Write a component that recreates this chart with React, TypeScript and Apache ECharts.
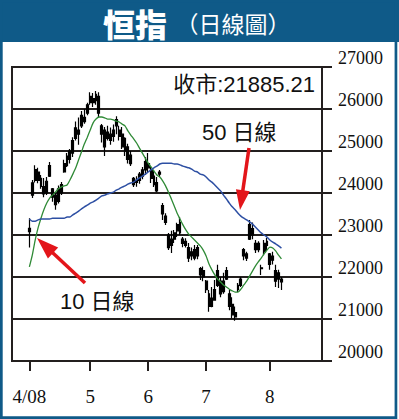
import React, { useEffect, useRef } from 'react';
import * as echarts from 'echarts';

// Trading days (2008)
const dates = [
  '4/1','4/2','4/3','4/7','4/8','4/9','4/10','4/11','4/14','4/15','4/16','4/17','4/18','4/21','4/22','4/23','4/24','4/25','4/28','4/29','4/30',
  '5/2','5/5','5/6','5/7','5/8','5/9','5/13','5/14','5/15','5/16','5/19','5/20','5/21','5/22','5/23','5/26','5/27','5/28','5/29','5/30',
  '6/2','6/3','6/4','6/5','6/6','6/10','6/11','6/12','6/13','6/16','6/17','6/18','6/19','6/20','6/23','6/24','6/25','6/26','6/27','6/30',
  '7/2','7/3','7/4','7/7','7/8','7/9','7/10','7/11','7/14','7/15','7/16','7/17','7/18','7/21','7/22','7/23','7/24','7/25','7/28','7/29','7/30','7/31',
  '8/1','8/4','8/5','8/6','8/7',
];

const openV = [
  23080,23950,24300,24500,24350,24150,24000,24400,24100,23950,23800,24000,24500,24650,24800,24950,25300,25500,25600,25800,25900,
  26150,26250,26200,26300,25600,25500,25300,25400,25350,25600,25500,25400,25300,25100,24900,24350,24250,24300,24400,24550,
  24700,24550,24400,24250,24450,23700,23450,23000,22750,22900,23100,23300,22900,22850,22700,22500,22650,22500,22050,22150,
  21900,21600,21300,21450,21800,21900,21650,21950,21600,21350,21150,21700,21800,22500,22550,22900,23150,22800,22650,22200,22600,22750,
  22550,22400,22150,21950,21950,
];
const closeV = [
  23160,24240,24560,24300,24160,23980,24280,24650,23900,23720,24100,24200,24700,24880,25000,25250,25550,25400,25850,25700,26100,
  26300,26150,26350,25900,25400,25100,25450,25250,25500,25750,25350,25100,25000,24800,24700,24200,24300,24450,24550,24750,
  24600,24350,24200,24050,24500,23500,23300,22700,22900,23050,23250,23050,22800,22750,22450,22600,22450,22700,22200,22000,
  21700,21300,21500,21700,22150,21600,21900,22150,21300,21100,21050,21800,21950,22650,22450,23250,23000,22650,22800,22220,22800,22850,
  22300,22500,21900,22100,21885.21,
];
const lowV = [
  22700,23880,24250,24230,24100,23900,23950,24380,23790,23600,23750,23950,24480,24620,24700,24860,25250,25150,25550,25650,25850,
  26100,26050,26100,25800,25200,24880,25250,25150,25220,25400,25250,25050,24880,24700,24640,24140,24150,24220,24330,24430,
  24500,24240,24140,24020,24380,23360,23240,22640,22570,22810,22950,23000,22710,22700,22360,22400,22400,22420,21930,21900,
  21620,21170,21280,21450,21760,21520,21600,21930,21210,21020,20960,21640,21760,22400,22380,22880,22900,22570,22590,22050,22520,22640,
  22170,22300,21760,21740,21690,
];
const highV = [
  23400,24310,24660,24600,24430,24360,24380,24740,24120,24000,24180,24260,24790,24950,25050,25330,25700,25800,25950,26000,26150,
  26400,26380,26430,26400,25640,25570,25600,25560,25630,25830,25600,25570,25330,25170,25000,24380,24400,24500,24620,24860,
  24950,24620,24550,24380,24550,23760,23520,23050,23100,23120,23290,23430,22950,22920,22810,22700,22760,22760,22240,22250,
  21930,21690,21760,21930,22290,22000,22100,22240,21690,21520,21300,21860,22000,22690,22600,23360,23300,22880,22850,22290,22880,22930,
  22570,22600,22290,22170,22000,
];

const ma10 = [
  22240,22520,22880,23170,23400,23600,23760,23880,23950,24020,24100,24140,24170,24190,24310,24450,24600,24790,24980,25170,25330,
  25500,25670,25760,25810,25810,25790,25760,25760,25740,25710,25690,25640,25600,25480,25380,25290,25190,25070,24950,24830,
  24710,24620,24520,24430,24380,24290,24170,24020,23860,23690,23520,23380,23240,23120,23020,22950,22880,22810,22740,22640,
  22500,22310,22170,22050,21950,21880,21810,21760,21710,21670,21640,21640,21710,21810,21900,22020,22140,22260,22360,22450,22550,22640,
  22710,22690,22620,22520,22430,
];
const ma50 = [
  23380,23330,23330,23360,23380,23380,23380,23380,23400,23400,23400,23400,23400,23430,23430,23480,23520,23570,23620,23670,23710,
  23760,23790,23830,23880,23930,23950,23980,24000,24020,24070,24100,24140,24170,24210,24240,24260,24310,24360,24400,24450,
  24500,24550,24600,24640,24690,24710,24710,24710,24710,24690,24690,24670,24640,24620,24600,24570,24520,24500,24450,24430,
  24380,24310,24260,24190,24120,24050,23950,23860,23760,23670,23600,23520,23450,23400,23360,23310,23260,23190,23120,23050,23000,22950,
  22880,22830,22790,22740,22690,
];

const monthLabels: Record<string, string> = { '4/1': '4/08', '5/2': '5', '6/2': '6', '7/2': '7', '8/1': '8' };
const yMin = 20000;
const yMax = 27000;
const yStep = 1000;
const padBefore = 6;
const padAfter = 14;

const TITLE = '恒指';
const SUBTITLE = '（日線圖）';
const CLOSE_TEXT = '收市:21885.21';
const MA50_TEXT = '50 日線';
const MA10_TEXT = '10 日線';

const BLUE = '#0f5a88';
const RED = '#e3151a';
const DARK = '#231f1e';

function arrow(tail: [number, number], tip: [number, number], headLen: number, halfW: number, width: number) {
  const dx = tip[0] - tail[0];
  const dy = tip[1] - tail[1];
  const len = Math.sqrt(dx * dx + dy * dy);
  const ux = dx / len, uy = dy / len;
  const nx = -uy, ny = ux;
  const bx = tip[0] - ux * headLen, by = tip[1] - uy * headLen;
  return [
    { type: 'line', z: 50, shape: { x1: tail[0], y1: tail[1], x2: bx + ux * 2, y2: by + uy * 2 }, style: { stroke: RED, lineWidth: width } },
    { type: 'polygon', z: 50, shape: { points: [[tip[0], tip[1]], [bx + nx * halfW, by + ny * halfW], [bx - nx * halfW, by - ny * halfW]] }, style: { fill: RED } },
  ];
}

export default function App() {
  const ref = useRef<HTMLDivElement>(null);
  useEffect(() => {
    if (!ref.current) return;
    const chart = echarts.init(ref.current, undefined, { renderer: 'svg' });
    const cats = [
      ...Array.from({ length: padBefore }, (_, i) => '_b' + i),
      ...dates,
      ...Array.from({ length: padAfter }, (_, i) => '_a' + i),
    ];
    const isMonth = (_i: number, v: string) => monthLabels[v] !== undefined;
    chart.setOption({
      animation: false,
      backgroundColor: '#ffffff',
      grid: { left: 12, top: 67, width: 310, height: 294, show: true, borderColor: DARK, borderWidth: 2, containLabel: false },
      xAxis: {
        type: 'category',
        data: cats,
        boundaryGap: false,
        axisLine: { show: true, lineStyle: { color: DARK, width: 2 } },
        axisTick: { show: true, interval: isMonth, length: 10, lineStyle: { color: DARK, width: 2 } },
        axisLabel: {
          show: true,
          interval: isMonth,
          formatter: (v: string) => monthLabels[v] || '',
          fontFamily: "'Liberation Serif', 'Times New Roman', serif",
          fontSize: 19,
          color: '#111',
          margin: 26,
        },
        splitLine: { show: false },
      },
      yAxis: {
        type: 'value',
        position: 'right',
        min: yMin,
        max: yMax,
        interval: yStep,
        axisLine: { show: true, lineStyle: { color: DARK, width: 2 } },
        axisTick: { show: true, length: 10, lineStyle: { color: DARK, width: 2 } },
        axisLabel: {
          formatter: (v: number) => String(v),
          fontFamily: "'Liberation Serif', 'Times New Roman', serif",
          fontSize: 18,
          color: '#111',
          margin: 16,
          verticalAlign: 'bottom',
          lineHeight: 18,
        },
        splitLine: { show: true, lineStyle: { color: DARK, width: 2 } },
      },
      series: [
        {
          type: 'candlestick',
          dimensions: ['date', 'open', 'close', 'lowest', 'highest'],
          encode: { x: 'date', y: ['open', 'close', 'lowest', 'highest'] },
          data: dates.map((d, i) => [d, openV[i], closeV[i], lowV[i], highV[i]]),
          barWidth: 2.4,
          itemStyle: { color: '#000', color0: '#000', borderColor: '#000', borderColor0: '#000', borderWidth: 1.2 },
          z: 3,
        },
        {
          type: 'line',
          data: dates.map((d, i) => [d, ma10[i]]),
          showSymbol: false,
          smooth: 0.2,
          lineStyle: { color: '#2f8a36', width: 1.3 },
          z: 4,
        },
        {
          type: 'line',
          data: dates.map((d, i) => [d, ma50[i]]),
          showSymbol: false,
          smooth: 0.2,
          lineStyle: { color: '#2d4fa3', width: 1.5 },
          z: 4,
        },
      ],
      graphic: [
        { type: 'rect', z: 1, shape: { x: 0, y: 0, width: 399, height: 42 }, style: { fill: BLUE } },
        { type: 'rect', z: 60, shape: { x: 1.35, y: 1.35, width: 394.6, height: 416.3 }, style: { fill: 'none', stroke: BLUE, lineWidth: 2.7 } },
        {
          type: 'text', z: 61, x: 135, y: 22.5,
          style: { text: TITLE, fill: '#fff', fontSize: 32, lineHeight: 32, fontWeight: 900, fontFamily: "'Noto Sans CJK TC', sans-serif", align: 'center', verticalAlign: 'middle' },
        },
        {
          type: 'text', z: 61, x: 233, y: 23,
          style: { text: SUBTITLE, fill: '#fff', fontSize: 23, fontFamily: "'Noto Sans CJK TC', sans-serif", align: 'center', verticalAlign: 'middle' },
        },
        {
          type: 'text', z: 61, x: 315, y: 84,
          style: { text: CLOSE_TEXT, fill: '#111', fontSize: 22, fontFamily: "'Liberation Sans', 'Noto Sans CJK TC', sans-serif", align: 'right', verticalAlign: 'middle' },
        },
        {
          type: 'text', z: 61, x: 202, y: 132,
          style: { text: MA50_TEXT, fill: '#111', fontSize: 22, fontFamily: "'Liberation Sans', 'Noto Sans CJK TC', sans-serif", align: 'left', verticalAlign: 'middle' },
        },
        {
          type: 'text', z: 61, x: 60, y: 301,
          style: { text: MA10_TEXT, fill: '#111', fontSize: 22, fontFamily: "'Liberation Sans', 'Noto Sans CJK TC', sans-serif", align: 'left', verticalAlign: 'middle' },
        },
        ...arrow([249, 148], [240, 210], 20, 7, 3.5),
        ...arrow([85, 283], [37, 238], 22, 7.5, 3.5),
      ],
    });
    return () => chart.dispose();
  }, []);
  return (
    <div style={{ position: 'fixed', left: 0, top: 0, width: 399, height: 419, background: '#fff' }}>
      <div ref={ref} style={{ width: 399, height: 419 }} />
    </div>
  );
}
